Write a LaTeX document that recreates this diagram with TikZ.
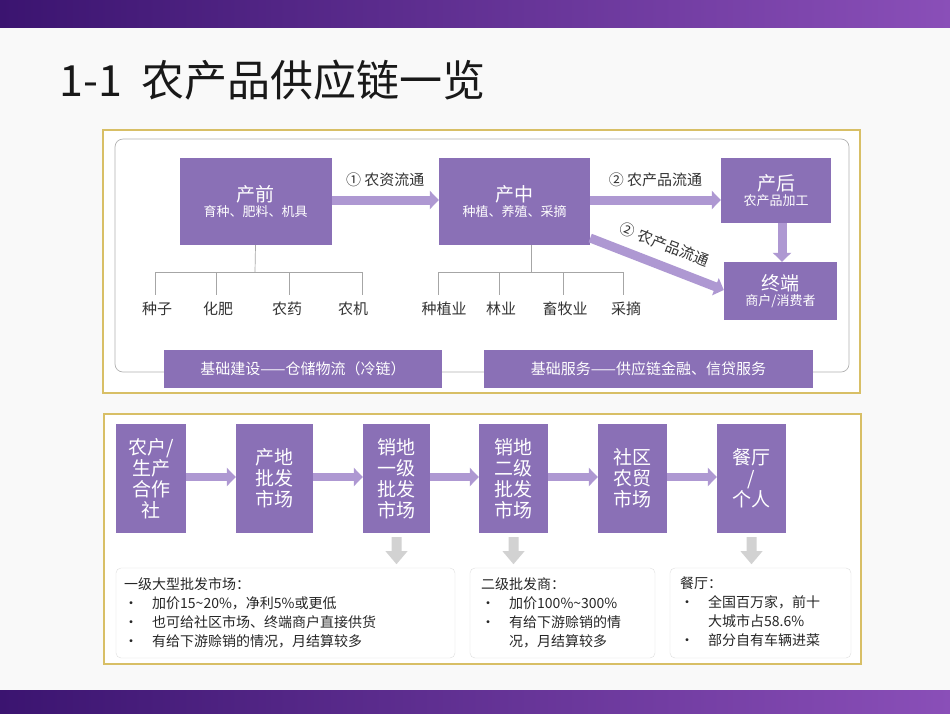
\documentclass[tikz,border=0pt]{standalone}
\usepackage{fontspec}
\setmainfont{Noto Sans CJK SC}
\usetikzlibrary{arrows.meta}
\definecolor{boxc}{HTML}{8A70B6}
\definecolor{arrc}{HTML}{AE98D2}
\definecolor{goldc}{HTML}{D8BF66}
\definecolor{grayar}{HTML}{D2D2D2}
\definecolor{bard}{HTML}{3B1470}
\definecolor{barl}{HTML}{8A4FB8}
\tikzset{
  pbox/.style={fill=boxc,text=white,inner sep=0pt,align=center},
  flow/.style={draw=arrc,line width=9pt,-{Triangle[length=9pt,width=18pt]}},
  tree/.style={draw=gray!70,line width=0.7pt},
  lbl/.style={font=\fontsize{15}{18}\selectfont,text=black!80},
  flowlbl/.style={font=\fontsize{15}{18}\selectfont,text=black!80},
  gbar/.style={fill=boxc,text=white,font=\fontsize{15}{18}\selectfont,inner sep=0pt},
  note/.style={draw=gray!25,fill=white,rounded corners=5pt},
  ntext/.style={font=\fontsize{14}{19}\selectfont,text=black!85,align=left,anchor=north west,inner sep=0pt},
  garr/.style={fill=grayar,draw=none},
}
\begin{document}
\begin{tikzpicture}[x=1pt,y=-1pt]
\useasboundingbox (0,0) rectangle (950,713);
\fill[white!95!gray] (0,0) rectangle (950,713);
\shade[left color=bard,right color=barl] (0,0) rectangle (950,27);
\shade[left color=bard,right color=barl] (0,690) rectangle (950,713);
\node[anchor=west,font=\fontsize{43}{48}\selectfont,text=black!90] (title) at (56,80) {1-1\ \ 农产品供应链一览};
% panel 1
\draw[goldc,line width=1.5pt,fill=white] (103,130) rectangle (860,393);
\draw[gray!60,line width=0.7pt,rounded corners=8pt] (115,139) rectangle (849,372);
\node[pbox,minimum width=152pt,minimum height=87pt] (pre) at (255.5,201.5) {\fontsize{19}{24}\selectfont 产前\\[2pt]\fontsize{13}{16}\selectfont 育种、肥料、机具};
\node[pbox,minimum width=151pt,minimum height=87pt] (mid) at (514.5,201.5) {\fontsize{19}{24}\selectfont 产中\\[2pt]\fontsize{13}{16}\selectfont 种植、养殖、采摘};
\node[pbox,minimum width=110pt,minimum height=65pt] (post) at (776,190.5) {\fontsize{19}{24}\selectfont 产后\\[2pt]\fontsize{13}{16}\selectfont 农产品加工};
\node[pbox,minimum width=113pt,minimum height=58pt] (end) at (780.5,291) {\fontsize{19}{24}\selectfont 终端\\[2pt]\fontsize{13}{16}\selectfont 商户/消费者};
\draw[flow] (pre.east|-0,200) -- (mid.west|-0,200) node[midway,above=5pt,flowlbl] (l1) {① 农资流通};
\draw[flow] (mid.east|-0,200) -- (post.west|-0,200) node[midway,above=5pt,flowlbl] (l2) {② 农产品流通};
\draw[flow] (mid.east|-0,238) -- (end.west|-0,290) node[midway,above=6pt,sloped,flowlbl] (l3) {② 农产品流通};
\draw[flow] (post.south-|782,0) -- (end.north-|782,0);
% trees
\draw[tree] (pre.south) -- (255,272);
\draw[tree] (155,272) -- (362,272);
\foreach \x/\t/\lx [count=\i] in {155/种子/157,216/化肥/218,289/农药/287,362/农机/353}{
  \draw[tree] (\x,272) -- (\x,295);
  \node[lbl] (a\i) at (\lx,309) {\t};
}
\draw[tree] (mid.south-|531,0) -- (531,272);
\draw[tree] (438,272) -- (623,272);
\foreach \x/\t/\lx [count=\i] in {438/种植业/444,499/林业/501,563/畜牧业/565,623/采摘/626}{
  \draw[tree] (\x,272) -- (\x,295);
  \node[lbl] (b\i) at (\lx,309) {\t};
}
\node[gbar,minimum width=278pt,minimum height=38pt] (g1) at (303,369) {基础建设——仓储物流（冷链）};
\node[gbar,minimum width=329pt,minimum height=38pt] (g2) at (648.5,369) {基础服务——供应链金融、信贷服务};
% panel 2
\draw[goldc,line width=1.5pt,fill=white] (104,414) rectangle (861,664);
\tikzset{vb/.style={pbox,minimum height=109pt,font=\fontsize{19}{21}\selectfont}}
\node[vb,minimum width=70pt] (c1) at (151,478.5) {农户/\\生产\\合作\\社};
\node[vb,minimum width=77pt] (c2) at (274.5,478.5) {产地\\批发\\市场};
\node[vb,minimum width=67pt] (c3) at (396.5,478.5) {销地\\一级\\批发\\市场};
\node[vb,minimum width=69pt] (c4) at (513.5,478.5) {销地\\二级\\批发\\市场};
\node[vb,minimum width=69pt] (c5) at (632.5,478.5) {社区\\农贸\\市场};
\node[vb,minimum width=69pt] (c6) at (751.5,478.5) {餐厅\\/\\个人};
\foreach \a/\b in {c1/c2,c2/c3,c3/c4,c4/c5,c5/c6}{
  \draw[flow,line width=8pt] (\a.east|-0,477) -- (\b.west|-0,477);
}
\foreach \c/\n in {c3/d1,c4/d2,c6/d3}{
  \coordinate (\n) at ([yshift=-4pt]\c.south);
  \fill[garr] ([xshift=-5pt]\n) -- ++(10,0) -- ++(0,14) -- ++(6,0) -- ++(-11,13) -- ++(-11,-13) -- ++(6,0) -- cycle;
}
\draw[note] (116,568) rectangle (455,658);
\draw[note] (470,568) rectangle (655,658);
\draw[note] (670,568) rectangle (851,658);
\node[ntext] (n1) at (124,577) {一级大型批发市场：\\
\textbullet\quad 加价15\textasciitilde 20\%，净利5\%或更低\\
\textbullet\quad 也可给社区市场、终端商户直接供货\\
\textbullet\quad 有给下游赊销的情况，月结算较多};
\node[ntext] (n2) at (481,577) {二级批发商：\\
\textbullet\quad 加价100\%\textasciitilde 300\%\\
\textbullet\quad 有给下游赊销的情\\
\phantom{\textbullet}\quad 况，月结算较多};
\node[ntext] (n3) at (680,577) {餐厅：\\
\textbullet\quad 全国百万家，前十\\
\phantom{\textbullet}\quad 大城市占58.6\%\\
\textbullet\quad 部分自有车辆进菜};
\end{tikzpicture}
\end{document}
